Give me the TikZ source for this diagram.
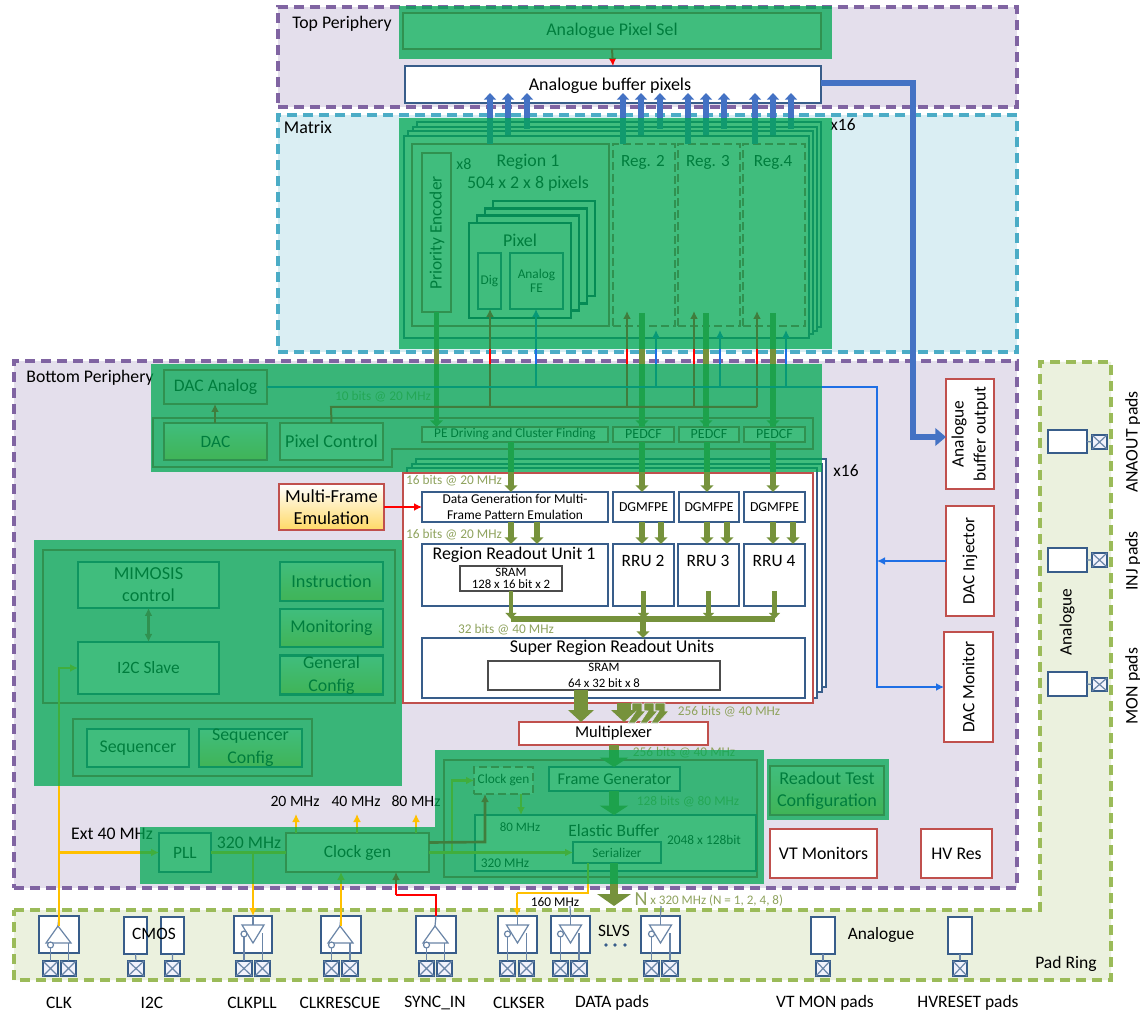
\documentclass[tikz,border=0pt]{standalone}
\usepackage{fontspec}
\setmainfont{Carlito}
\usetikzlibrary{arrows.meta,calc}
\definecolor{pur}{HTML}{8064A2}
\definecolor{purf}{HTML}{E4DFEC}
\definecolor{cyn}{HTML}{4BACC6}
\definecolor{cynf}{HTML}{DAEEF3}
\definecolor{oli}{HTML}{9BBB59}
\definecolor{olif}{HTML}{EBF1DE}
\definecolor{oar}{HTML}{76923C}
\definecolor{rd}{HTML}{C0504D}
\definecolor{bl}{HTML}{385D8A}
\definecolor{thinb}{HTML}{1F6FE5}
\definecolor{bigb}{HTML}{4472C4}
\definecolor{yel}{HTML}{FFC000}
\definecolor{gold}{HTML}{FFD966}
\definecolor{ovg}{HTML}{00A852}
\definecolor{navy}{HTML}{17375E}
\definecolor{pale}{HTML}{8FA35E}
\newcommand\rbox[7][]{%
  \pgfmathsetmacro\bxcx{((#3)+(#5))/2}\pgfmathsetmacro\bxcy{((#4)+(#6))/2}%
  \pgfmathsetmacro\bxw{((#5)-(#3))*.75}\pgfmathsetmacro\bxh{((#6)-(#4))*.75}%
  \node[minimum width=\bxw pt,minimum height=\bxh pt,inner sep=0pt,outer sep=0pt,align=center,#1] (#2) at (\bxcx,\bxcy) {#7};}
\newcommand\xpad[5]{\rbox[xps]{#1}{#2}{#3}{#4}{#5}{}\draw[xpl] (#1.north west)--(#1.south east) (#1.north east)--(#1.south west);}
\newcommand\upbuf[7]{\rbox[padbox]{#1}{#2}{916}{#3}{953}{}%
  \xpad{#1a}{#4}{961}{#5}{976}\xpad{#1b}{#6}{961}{#7}{976}%
  \coordinate (#1ap) at ($(#1.north)+(-1,10)$);
  \draw[xpl] (#1.north)--(#1ap);
  \draw[xpl] (#1ap)--($(#1ap)+(-12,17)$)--($(#1ap)+(13,17)$)--cycle;
  \draw[xpl] (#1b.north)--(#1b.north |- 0,943);
  \draw[xpl] (#1a.north)--(#1a.north |- 0,948);
  \draw[xpl,fill=white] (#1a.north |- 0,945) circle[radius=2.25pt];}
\newcommand\dnbuf[7]{\rbox[padbox]{#1}{#2}{916}{#3}{953}{}%
  \xpad{#1a}{#4}{961}{#5}{976}\xpad{#1b}{#6}{961}{#7}{976}%
  \coordinate (#1tp) at ($(#1.north)+(0,9)$);
  \draw[xpl] (#1.north)--(#1tp);
  \draw[xpl] ($(#1tp)+(-11,0)$)--($(#1tp)+(11,0)$)--($(#1tp)+(0,18)$)--cycle;
  \draw[xpl] (#1b.north)--(#1b.north |- 0,933);
  \draw[xpl] (#1a.north)--(#1a.north |- 0,937);
  \draw[xpl,fill=white] (#1a.north |- 0,934) circle[radius=2.25pt];}
\newcommand\backarrow[1]{\fill[oar,draw=purf,line width=.5pt] (#1-5,703)--(#1+5,703)--(#1+5,711)--(#1+9,711)--(#1-2,723)--(#1-9,723)--(#1-1,711)--(#1-5,711)--cycle;}
\tikzset{
  fs/.style 2 args={font=\fontsize{#1}{#2}\selectfont},
  regp/.style={draw=pur,fill=purf,line width=2.4pt,dash pattern=on 7.5pt off 4.5pt},
  regm/.style={draw=cyn,fill=cynf,line width=2.4pt,dash pattern=on 7.5pt off 4.5pt},
  rego/.style={draw=oli,fill=olif,line width=2.4pt,dash pattern=on 7.5pt off 4.5pt},
  blu/.style={draw=bl,fill=white,line width=1.6pt},
  red/.style={draw=rd,fill=white,line width=2.2pt},
  redg/.style={draw=rd,line width=2.2pt,top color=white,bottom color=gold},
  grp/.style={draw=rd,line width=2pt},
  frame/.style={draw=bl,fill=white,line width=1.5pt},
  pframe/.style={draw=navy,fill=white,line width=2pt},
  thn/.style={draw=bl,line width=.9pt},
  dashb/.style={draw=rd,line width=1.5pt,dash pattern=on 6pt off 3pt},
  padbox/.style={draw=bl,fill=white,line width=1.8pt},
  xps/.style={draw=bl,fill=olif!70!blue!15,line width=1.5pt},
  xpl/.style={draw=bl!75!white,line width=.9pt},
  over/.style={fill=ovg,fill opacity=.75},
  lab/.style={text=pale,font=\fontsize{10}{12}\selectfont},
  hd/.style={-{Latex[length=6pt,width=6pt]}},
  rdl/.style={draw=red,line width=1.5pt},
  tbl/.style={draw=thinb,line width=1.5pt},
  ylw/.style={draw=yel,line width=2pt},
  oth/.style={draw=oar,line width=4.3pt,-{Triangle[length=5pt,width=9.5pt]}},
  osm/.style={draw=oar,line width=3.4pt,-{Triangle[length=4.5pt,width=8pt]}},
  obig/.style={draw=oar,line width=10.5pt,-{Triangle[length=9pt,width=19pt]}},
  omid/.style={draw=oar,line width=7pt,-{Triangle[length=7pt,width=21pt]}},
  oln/.style={draw=oar,line width=3.8pt},
  bup/.style={draw=bigb,line width=4pt,-{Triangle[length=5pt,width=9pt]}},
}
\begin{document}
\begin{tikzpicture}[x=.75pt,y=-.75pt,fs={13}{16}]
\useasboundingbox (0,0) rectangle (1140,1012);
\fill[white] (0,0) rectangle (1140,1012);
\foreach \g in {215,331,436,490,511,536,537,614,624,627,642,643,655,656,661,694,706,707,720,727,757,773,774,786,793,877,913,508,527,623,641,660,688,724,755,791,521,485,452}{\coordinate (g\g) at (\g,0);}
\coordinate (g581) at (581,0);

% regions
\rbox[regp]{topreg}{278}{7}{1017}{107}{}
\rbox[regm]{matreg}{278}{115}{1017}{352}{}
\rbox[regp]{botreg}{14}{361}{1017}{888}{}
\draw[rego] (14,910)--(1040,910)--(1040,362)--(1111,362)--(1111,980)--(14,980)--cycle;
\node[fs={13.3}{16}] (ttop) at (342,24) {Top Periphery};
\node[fs={13.5}{16}] (tmat) at (308,127) {Matrix};
\node[fs={13.3}{16}] (tbot) at (90,378) {Bottom Periphery};
\node[fs={13.2}{16}] (tring) at (1066,964) {Pad Ring};

% top periphery
\rbox[draw=rd,line width=2pt,fill=white,fs={13.4}{16}]{apsel}{403}{13}{821}{49}{Analogue Pixel Sel}
\rbox[blu]{abuf}{405}{66}{821}{103}{}
\node[fs={13.5}{16}] (tabuf) at (610,86) {Analogue buffer pixels};
\draw[rdl,hd] (apsel.south) -- (abuf.north);

% matrix stack
\foreach \i in {3,2,1}{\rbox[frame]{mf\i}{404+\i*4.3}{136-\i*4.7}{809+\i*4}{338-\i*3.7}{}}
\rbox[frame]{mf0}{404}{136}{809}{338}{}
\rbox[grp,fill=white]{reg1}{412}{144}{609}{326}{}
\rbox[dashb,fill=white]{reg2}{613}{144}{675}{326}{}
\rbox[dashb,fill=white]{reg3}{678}{144}{740}{326}{}
\rbox[dashb,fill=white]{reg4}{743}{144}{805}{326}{}
\rbox[grp,fill=white]{prio}{422}{153}{451}{312}{}
\node[rotate=90,fs={13}{16}] (priot) at (437,233) {Priority Encoder};
\node[fs={12}{14}] (tx8) at (464,164) {x8};
\node[fs={13.4}{16}] (treg1) at (528,162) {Region 1};
\node[fs={13.4}{16}] (tpx) at (528,184) {504 x 2 x 8 pixels};
\node[fs={12.8}{16}] (treg2) at (643,162) {Reg. 2};
\node[fs={12.8}{16}] (treg3) at (708,162) {Reg. 3};
\node[fs={12.8}{16}] (treg4) at (773,162) {Reg.4};
\foreach \i in {3,2,1}{\rbox[pframe]{pf\i}{469+\i*8}{223-\i*7.3}{571+\i*8}{318-\i*7.3}{}}
\rbox[pframe]{pf0}{469}{223}{571}{318}{}
\node[fs={13.5}{16}] (tpixel) at (520,240) {Pixel};
\rbox[thn,fill=white,fs={10}{11}]{dig}{478}{253}{501}{309}{Dig}
\rbox[thn,fill=white,fs={10}{11}]{afe}{510}{253}{563}{309}{Analog\\FE}
\node[fs={13}{16}] (tx16) at (843,125) {x16};

% bottom block 1
\rbox[grp,fs={13.2}{16}]{dacan}{164}{370}{267}{404}{DAC Analog}
\draw[grp] (153,418)--(813,418)--(813,449)--(392,449)--(392,467)--(153,467)--cycle;
\rbox[redg,fs={13}{16}]{dac}{164}{423}{267}{460}{DAC}
\rbox[grp,fill=white,fs={13.6}{16}]{pixctl}{280}{423}{383}{460}{Pixel Control}
\rbox[grp,fill=white,fs={10}{11}]{pe}{422}{427}{608}{442}{PE Driving and Cluster Finding}
\rbox[grp,fill=white,fs={10.5}{11}]{pd2}{613}{427}{674}{442}{PEDCF}
\rbox[grp,fill=white,fs={10.5}{11}]{pd3}{679}{427}{739}{442}{PEDCF}
\rbox[grp,fill=white,fs={10.5}{11}]{pd4}{744}{427}{805}{442}{PEDCF}
\node[lab] (l10) at (383,397) {10 bits @ 20 MHz};

% RRU stack
\foreach \i in {3,2,1}{\rbox[frame]{rf\i}{403+\i*4.4}{473-\i*4.7}{813+\i*4.4}{703-\i*5.5}{}}
\rbox[draw=rd,fill=white,line width=1.8pt]{rf0}{403}{473}{813}{703}{}
\node[fs={13}{16}] (tx16b) at (846,471) {x16};
\node[lab] (l16a) at (454,481) {16 bits @ 20 MHz};
\node[lab] (l16b) at (454,535) {16 bits @ 20 MHz};
\node[lab] (l32) at (506,630) {32 bits @ 40 MHz};
\node[lab] (l256) at (729,712) {256 bits @ 40 MHz};
\rbox[redg,fs={13.8}{16.5}]{mfe}{279}{484}{384}{530}{Multi-Frame\\Emulation}
\rbox[blu,fs={10.1}{12.5}]{dgen}{422}{492}{608}{522}{Data Generation for Multi-\\Frame Pattern Emulation}
\rbox[blu,fs={10.3}{11}]{dg2}{613}{492}{674}{522}{DGMFPE}
\rbox[blu,fs={10.3}{11}]{dg3}{679}{492}{739}{522}{DGMFPE}
\rbox[blu,fs={10.3}{11}]{dg4}{744}{492}{805}{522}{DGMFPE}
\rbox[blu]{rru1}{422}{544}{608}{606}{}
\node[fs={13.4}{16}] (trru1) at (514,555) {Region Readout Unit 1};
\rbox[draw=black!70,fill=white,line width=.8pt,fs={9.6}{9.5}]{sr1}{460}{566}{562}{591}{SRAM\\128 x 16 bit x 2}
\rbox[blu]{rru2}{613}{544}{674}{606}{}
\rbox[blu]{rru3}{678}{544}{739}{606}{}
\rbox[blu]{rru4}{744}{544}{805}{606}{}
\node[fs={13}{16}] (trru2) at (643,561) {RRU 2};
\node[fs={13}{16}] (trru3) at (708,561) {RRU 3};
\node[fs={13}{16}] (trru4) at (774,561) {RRU 4};
\rbox[blu]{super}{422}{638}{805}{698}{}
\node[fs={13.5}{16}] (tsuper) at (612,648) {Super Region Readout Units};
\rbox[draw=black!70,fill=white,line width=.8pt,fs={9.6}{12}]{sr2}{488}{661}{720}{690}{SRAM\\64 x 32 bit x 8}
\rbox[red,fs={12.4}{14}]{mux}{519}{722}{708}{745}{Multiplexer}

% left control block
\rbox[grp]{ctlg}{43}{550}{395}{703}{}
\rbox[blu,fs={13.7}{16.5}]{mim}{78}{562}{219}{608}{MIMOSIS\\control}
\rbox[blu,fs={13}{16}]{i2c}{78}{642}{219}{694}{I2C Slave}
\rbox[redg,draw=bl,fs={13.7}{16}]{instr}{280}{562}{383}{601}{Instruction}
\rbox[redg,draw=bl,fs={13.5}{16}]{moni}{280}{609}{383}{647}{Monitoring}
\rbox[redg,draw=bl,fs={13.4}{17}]{genc}{280}{656}{383}{694}{General\\Config}
\rbox[grp]{seqg}{73}{719}{312}{776}{}
\rbox[blu,fs={13.4}{16}]{seq}{87}{729}{189}{767}{Sequencer}
\rbox[redg,draw=bl,fs={13.4}{17}]{seqc}{199}{729}{302}{767}{Sequencer\\Config}
\draw[draw=rd,line width=1.6pt,{Latex[length=6pt,width=6pt]}-{Latex[length=6pt,width=6pt]}] (mim.south)--(i2c.north);

% clock and frame block
\rbox[grp]{fbg}{444}{760}{757}{877}{}
\rbox[blu,fs={13}{16}]{pll}{159}{833}{211}{872}{PLL}
\rbox[grp,fill=white,fs={13}{16}]{cgen}{286}{833}{429}{872}{Clock gen}
\rbox[dashb,fill=white,fs={10}{11}]{cg2}{474}{767}{533}{794}{Clock gen}
\rbox[blu,fs={12.3}{14}]{fgen}{549}{767}{680}{791}{Frame Generator}
\rbox[blu]{ebuf}{475}{815}{756}{871}{}
\node[fs={13}{16}] (tebuf) at (614,831) {Elastic Buffer};
\rbox[thn,fill=white,fs={10}{11}]{ser}{573}{842}{661}{863}{Serializer}
\node[fs={10}{11}] (t2048) at (704,840) {2048 x 128bit};
\node[fs={9.7}{11}] (t80) at (520,827) {80 MHz};
\node[fs={10}{11}] (t320b) at (505,863) {320 MHz};
\node[lab] (l128) at (688,802) {128 bits @ 80 MHz};
\node[lab] (l256b) at (684,753) {256 bits @ 40 MHz};
\rbox[redg,fs={13.6}{16.5}]{rtest}{770}{766}{884}{815}{Readout Test\\Configuration}
\rbox[red,fs={13.4}{16}]{vtm}{770}{829}{877}{878}{VT Monitors}
\rbox[red,fs={13.3}{16}]{hvr}{921}{829}{992}{878}{HV Res}
\node[fs={11.8}{14}] (t20) at (295,801) {20 MHz};
\node[fs={11.8}{14}] (t40) at (356,801) {40 MHz};
\node[fs={11.8}{14}] (t80b) at (416,801) {80 MHz};
\node[fs={13.3}{16}] (text) at (112,834) {Ext 40 MHz};
\node[fs={13.3}{16}] (t320) at (249,843) {320 MHz};

% right boxes
\rbox[red]{abo}{946}{379}{994}{489}{}
\node[rotate=90,fs={13}{16.5},align=center] (abot) at (abo) {Analogue\\buffer output};
\rbox[red]{dinj}{946}{506}{994}{616}{}
\node[rotate=90,fs={12.8}{16}] (dinjt) at (dinj) {DAC Injector};
\rbox[red]{dmon}{944}{632}{993}{742}{}
\node[rotate=90,fs={13}{16}] (dmont) at (dmon) {DAC Monitor};

% connectors: blue from matrix to buffer
\foreach \a/\b in {490/144,508/135,527/129,623/144,641/135,660/129,688/144,706/135,724/129,755/144,773/135,791/129}{
  \coordinate (bt\a) at (\a,\b);
  \draw[bup] (bt\a) -- (\a,93);}
\coordinate (bo1) at (913,83);
\coordinate (bo2) at (913,437);
\draw[draw=bigb,line width=4.5pt,-{Triangle[length=8pt,width=13pt]}] (abuf.east |- bo1) -- (bo1) -- (bo2) -- (abo.west |- bo2);

% olive thick vertical
\draw[oth] (prio.south) -- (pe.north -| prio.south);
\draw[oln,line width=4.3pt] (g642 |- 0,313) -- (pd2.north -| g642);
\draw[oth] (g642 |- 0,410) -- (pd2.north -| g642);
\draw[oln,line width=4.3pt] (g706 |- 0,313) -- (pd3.north -| g706);
\draw[oth] (g706 |- 0,410) -- (pd3.north -| g706);
\draw[oln,line width=4.3pt] (g773 |- 0,313) -- (pd4.north -| g773);
\draw[oth] (g773 |- 0,410) -- (pd4.north -| g773);
\draw[oth] (pe.south -| g511) -- (dgen.north -| g511);
\draw[oth] (pd2.south -| g642) -- (dg2.north -| g642);
\draw[oth] (pd3.south -| g707) -- (dg3.north -| g707);
\draw[oth] (pd4.south -| g773) -- (dg4.north -| g773);
\draw[oth] (dgen.south -| g511) -- (rru1.north -| g511);
\draw[oth] (dgen.south -| g537) -- (rru1.north -| g537);
\draw[oth] (dg2.south -| g642) -- (rru2.north -| g642);
\draw[oth] (dg2.south -| g661) -- (rru2.north -| g661);
\draw[oth] (dg3.south -| g707) -- (rru3.north -| g707);
\draw[oth] (dg3.south -| g727) -- (rru3.north -| g727);
\draw[oth] (dg4.south -| g773) -- (rru4.north -| g773);
\draw[oth] (dg4.south -| g793) -- (rru4.north -| g793);
\coordinate (busL) at (511,619);
\coordinate (busR) at (775,619);
\draw[oln] (busL) -- (busR);
\draw[osm] (sr1.south -| g511) -- (busL);
\draw[osm] ($(rru2.south)+(0,-15)$) -- (rru2.south |- busL);
\draw[osm] ($(rru3.south)+(0,-15)$) -- (rru3.south |- busL);
\draw[osm] ($(rru4.south)+(0,-15)$) -- (rru4.south |- busL);
\draw[oth] (g643 |- busL) -- (super.north -| g643);
\foreach \x in {660,649,637}{\backarrow{\x}}
\draw[obig] (sr2.south -| g581) -- (mux.north -| g581);
\draw[obig] (rf0.south -| g624) -- (mux.north -| g624);
\draw[omid] (mux.south -| g614) -- (fgen.north -| g614);
\draw[omid] (fgen.south -| g614) -- (ebuf.north -| g614);
\coordinate (ntip) at (614,906);
\draw[draw=oar,line width=6pt,-{Triangle[length=9pt,width=25pt]}] (ser.south -| g614) -- (ntip);
\node[text=pale,fs={15}{16}] (tnn) at (641,899) {N};
\node[text=pale,fs={9.8}{11},anchor=west,inner sep=0pt] (tn) at (650,901) {x 320 MHz (N = 1, 2, 4, 8)};

% red lines
\coordinate (pcY) at (331,407);
\draw[rdl] (pixctl.north) -- (pcY) -- (g757 |- pcY);
\draw[rdl,hd] (g490 |- pcY) -- (dig.south -| g490);
\draw[rdl,hd] (g627 |- pcY) -- (g627 |- 0,311);
\draw[rdl,hd] (g694 |- pcY) -- (g694 |- 0,311);
\draw[rdl,hd] (g757 |- pcY) -- (g757 |- 0,311);
\draw[rdl,line width=2pt,hd] (dac.north -| g215) -- (dacan.south -| g215);
\draw[draw=red,line width=1.5pt,hd] (mfe.east |- dgen.west) -- (dgen.west);

% thin blue
\coordinate (db1) at (877,387);
\coordinate (db2) at (877,687);
\draw[tbl,hd] (dacan.east) -- (db1) -- (db2) -- (dmon.west |- db2);
\draw[tbl,hd] (dinj.west) -- (db1 |- dinj.west);
\draw[tbl,hd] (g536 |- db1) -- (afe.south -| g536);
\draw[tbl,hd] (g656 |- db1) -- (g656 |- 0,330);
\draw[tbl,hd] (g720 |- db1) -- (g720 |- 0,330);
\draw[tbl,hd] (g786 |- db1) -- (g786 |- 0,330);

% pads bottom
\upbuf{clk}{39}{79}{43}{58}{61}{76}
\rbox[padbox]{io1}{124}{917}{147}{954}{}
\rbox[padbox]{io2}{161}{917}{184}{954}{}
\xpad{io1x}{128}{961}{144}{976}
\xpad{io2x}{165}{961}{180}{976}
\draw[xpl] (io1.south)--(io1x.north) (io2.south)--(io2x.north);
\node[fs={13}{16}] (tcmos) at (154,934) {CMOS};
\dnbuf{plb}{234}{272}{236}{252}{255}{270}
\upbuf{rsc}{321}{361}{324}{339}{342}{358}
\upbuf{syn}{416}{456}{419}{434}{437}{452}
\dnbuf{ser1}{498}{537}{500}{515}{519}{534}
\dnbuf{dat1}{551}{590}{553}{568}{571}{587}
\dnbuf{dat2}{641}{680}{644}{659}{662}{678}
\coordinate (dt1) at (570,906);
\coordinate (dt2) at (661,906);
\draw[xpl] (dat1.north)--(dt1) (dat2.north)--(dt2);
\rbox[padbox]{vtb}{811}{917}{835}{954}{}
\xpad{vtx}{816}{961}{830}{976}
\draw[xpl] (vtb.south)--(vtx.north);
\rbox[padbox]{hvb}{948}{917}{972}{954}{}
\xpad{hvx}{953}{961}{967}{976}
\draw[xpl] (hvb.south)--(hvx.north);
\node[fs={13}{16}] (tana) at (881,935) {Analogue};
\node[fs={13}{16}] (tslvs) at (614,931) {SLVS};
\foreach \i/\x in {1/606,2/615,3/625}{\fill[bl] (\x,945) circle[radius=1.4pt];}
\rbox[padbox]{anb1}{1048}{430}{1087}{453}{}
\rbox[padbox]{anb2}{1048}{548}{1087}{572}{}
\rbox[padbox]{anb3}{1048}{672}{1087}{696}{}
\xpad{anx1}{1092}{435}{1107}{449}
\xpad{anx2}{1092}{553}{1107}{567}
\xpad{anx3}{1092}{678}{1107}{691}
\draw[xpl] (anb1.east)--(anx1.west) (anb2.east)--(anx2.west) (anb3.east)--(anx3.west);
\node[rotate=90,fs={13}{16}] (tanar) at (1067,622) {Analogue};
\node[rotate=90,fs={13.3}{16}] (lana) at (1133,442) {ANAOUT pads};
\node[rotate=90,fs={13.3}{16}] (linj) at (1133,561) {INJ pads};
\node[rotate=90,fs={13.3}{16}] (lmon) at (1133,686) {MON pads};
\foreach \n/\x/\t in {lclk/59/CLK,li2c/152/I2C,lpll/252/CLKPLL,lres/340/CLKRESCUE,lsyn/435/SYNC\_IN,lser/519/CLKSER,ldat/612/DATA pads,lvt/825/VT MON pads,lhv/968/HVRESET pads}{
  \node[fs={13.1}{16}] (\n) at (\x,1003) {\t};}

% yellow and clock connectors
\draw[ylw,-{Latex[length=6pt,width=6pt]}] ($(clk.north)+(0,10)$) -- (clk.north |- i2c.west) -- (i2c.west);
\draw[ylw,-{Latex[length=6pt,width=6pt]}] (clk.north |- pll.west) -- (pll.west);
\draw[ylw,-{Latex[length=6pt,width=6pt]}] (pll.east -| plb.north) -- (plb.north);
\draw[ylw] (pll.east) -- (cgen.west);
\draw[ylw,-{Latex[length=6pt,width=6pt]}] ($(rsc.north)+(0,10)$) -- (cgen.south -| rsc.north);
\coordinate (sy1) at (436,895);
\coordinate (sy2) at (396,895);
\draw[draw=red,line width=2.2pt] (syn.north) -- (sy1) -- (sy2);
\draw[draw=red,line width=2.2pt,-{Latex[length=6pt,width=6pt]}] (sy2) -- (cgen.south -| sy2);
\foreach \x in {296,357,416}{
  \coordinate (cg\x) at (\x,814);
  \draw[ylw,-{Latex[length=6pt,width=6pt]}] (cgen.north -| cg\x) -- (cg\x);}
\draw[ylw,-{Latex[length=6pt,width=6pt]}] (cgen.east) -- (ser.west);
\draw[ylw,-{Latex[length=6pt,width=6pt]}] (cgen.east -| g452) -- (g452 |- cg2.west) -- (cg2.west);
\draw[rdl,line width=2pt,-{Latex[length=6pt,width=6pt]}] ($(cgen.east)+(0,-10)$) -- (g485 |- 0,842) -- (cg2.south -| g485);
\draw[ylw,-{Latex[length=6pt,width=6pt]}] (cg2.south -| g521) -- (ebuf.north -| g521);
\coordinate (sry) at (588,893);
\coordinate (srz) at (517,893);
\draw[ylw] (ser.south -| sry) -- (sry) -- (srz);
\draw[ylw,-{Latex[length=6pt,width=6pt]}] (srz) -- (ser1.north -| srz);
\node[fs={10}{11}] (t160) at (555,902) {160 MHz};

% green overlays
\rbox[over]{ov1}{399}{6}{832}{59}{}
\rbox[over]{ov2}{399}{118}{832}{349}{}
\rbox[over]{ov3}{151}{364}{822}{472}{}
\rbox[over]{ov4}{34}{540}{402}{786}{}
\rbox[over]{ov5}{140}{827}{435}{884}{}
\rbox[over]{ov6}{435}{750}{764}{884}{}
\rbox[over]{ov7}{767}{759}{889}{820}{}
\end{tikzpicture}
\end{document}
